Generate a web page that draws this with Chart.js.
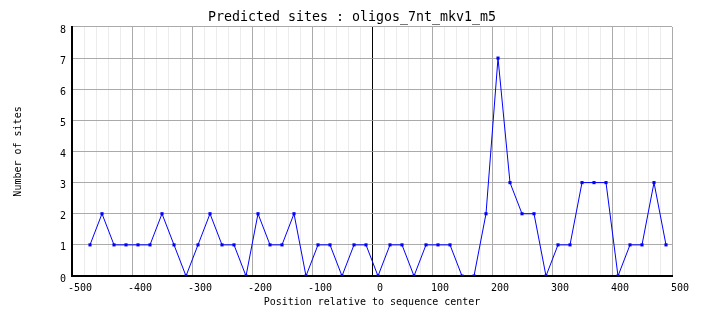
<!DOCTYPE html>
<html>
<head>
<meta charset="utf-8">
<title>Predicted sites</title>
<script src="https://cdn.jsdelivr.net/npm/chart.js@4.4.1/dist/chart.umd.min.js"></script>
<style>
  html, body { margin: 0; padding: 0; background: #ffffff; }
  canvas { display: block; }
</style>
</head>
<body>
<canvas id="sitesChart" width="704" height="328"></canvas>
<script>
// window centres (bp relative to sequence centre)
const positions = [
  -470, -450, -430, -410, -390, -370, -350, -330, -310, -290,
  -270, -250, -230, -210, -190, -170, -150, -130, -110, -90,
  -70, -50, -30, -10, 10, 30, 50, 70, 90, 110,
  130, 150, 170, 190, 210, 230, 250, 270, 290, 310,
  330, 350, 370, 390, 410, 430, 450, 470, 490
];
// number of predicted sites per window
const siteCounts = [
  1, 2, 1, 1, 1, 1, 2, 1, 0, 1,
  2, 1, 1, 0, 2, 1, 1, 2, 0, 1,
  1, 0, 1, 1, 0, 1, 1, 0, 1, 1,
  1, 0, 0, 2, 7, 3, 2, 2, 0, 1,
  1, 3, 3, 3, 0, 1, 1, 3, 1
];
const xMajorTicks = [-500, -400, -300, -200, -100, 0, 100, 200, 300, 400, 500];
const yTicks = [0, 1, 2, 3, 4, 5, 6, 7, 8];

const MONO = "'DejaVu Sans Mono', 'Liberation Mono', monospace";
Chart.defaults.font.family = MONO;
Chart.defaults.color = '#000000';

const points = positions.map((p, i) => ({ x: p, y: siteCounts[i] }));

function xGridColor(ctx) {
  const v = ctx.tick ? ctx.tick.value : null;
  if (v === 0) return '#000000';
  if (xMajorTicks.includes(v)) return '#aaaaaa';
  return '#ececec';
}

new Chart(document.getElementById('sitesChart'), {
  type: 'line',
  data: {
    datasets: [{
      data: points,
      borderColor: '#0000ff',
      backgroundColor: '#0000ff',
      borderWidth: 1,
      tension: 0,
      pointStyle: 'rect',
      pointRadius: 2.2,
      pointBorderWidth: 0,
      pointBackgroundColor: '#0000ff'
    }]
  },
  options: {
    responsive: false,
    animation: false,
    // equal side padding keeps the title centred on the canvas
    layout: { padding: { left: 32, right: 32, top: 0, bottom: 0 } },
    plugins: {
      legend: { display: false },
      tooltip: { enabled: false },
      title: {
        display: true,
        text: 'Predicted sites : oligos_7nt_mkv1_m5',
        color: '#000000',
        font: { family: MONO, size: 13.3, weight: 'normal' },
        padding: { top: 10, bottom: 1 }
      }
    },
    scales: {
      x: {
        type: 'linear',
        min: -500,
        max: 500,
        afterFit: scale => { scale.height = 52; },
        border: { display: true, color: '#000000', width: 2 },
        grid: { color: xGridColor, drawTicks: false, lineWidth: 1 },
        ticks: {
          stepSize: 20,
          autoSkip: false,
          maxRotation: 0,
          padding: 6,
          labelOffset: 8,
          font: { family: MONO, size: 10 },
          callback: v => (xMajorTicks.includes(v) ? String(v) : '')
        },
        title: {
          display: true,
          text: 'Position relative to sequence center',
          font: { family: MONO, size: 10 },
          padding: { top: 0, bottom: 20 }
        }
      },
      y: {
        min: 0,
        max: 8,
        afterFit: scale => { scale.width = 40; },
        border: { display: true, color: '#000000', width: 2 },
        grid: { color: '#aaaaaa', drawTicks: false, lineWidth: 1 },
        ticks: {
          stepSize: 1,
          padding: 6,
          labelOffset: 3,
          font: { family: MONO, size: 10 },
          callback: v => (yTicks.includes(v) ? String(v) : '')
        },
        title: {
          display: true,
          text: 'Number of sites',
          font: { family: MONO, size: 10 },
          // pulled out into the left margin
          padding: { top: -20, bottom: 0 }
        }
      }
    }
  }
});
</script>
</body>
</html>
